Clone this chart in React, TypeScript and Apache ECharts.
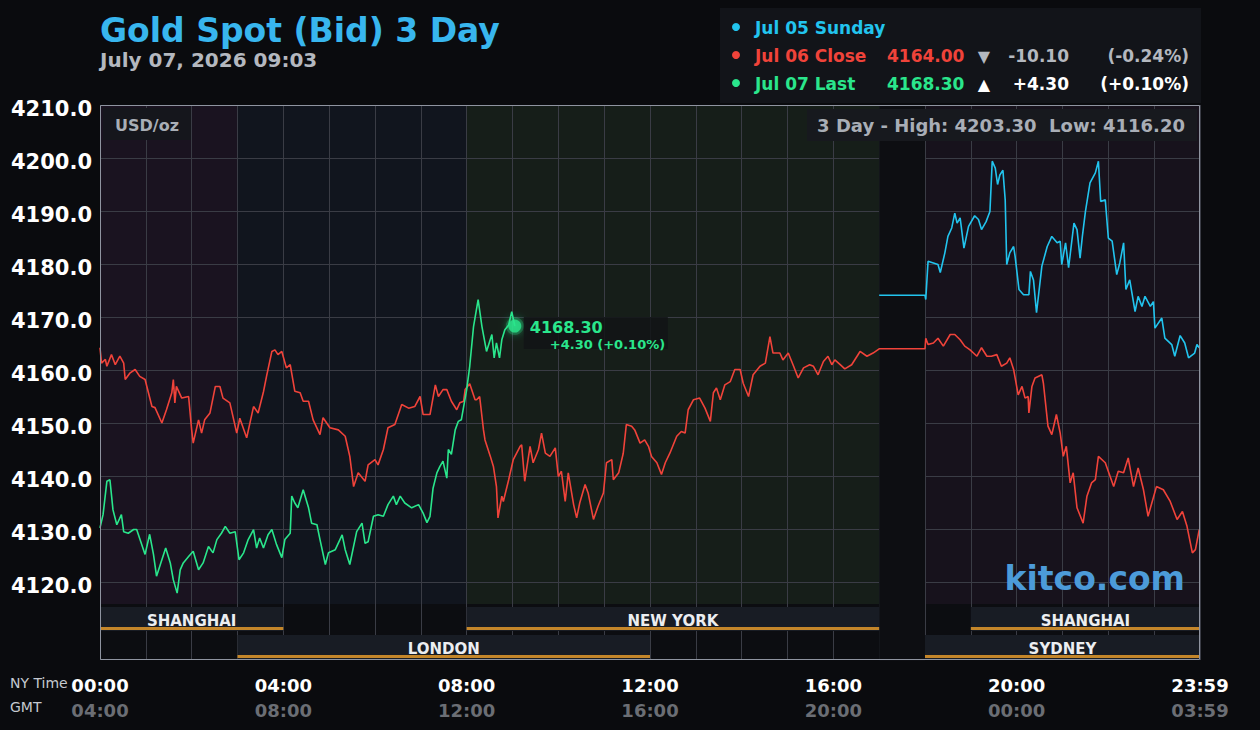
import React, { useEffect, useRef } from 'react';
import * as echarts from 'echarts';

// ---- Data (NY time in minutes from 00:00, price USD/oz) ----
const jul07Last: [number, number][] = [
  [0, 4130.2], [4, 4132.7], [9, 4139], [13, 4139.3], [17, 4133.6], [22, 4130.8], [28, 4132.7], [31, 4129.5],
  [37, 4129.2], [44, 4129.9], [48, 4129.9], [59, 4125.2], [65, 4129], [70, 4125.2], [74, 4121.1], [79, 4123.3],
  [86, 4126.4], [92, 4123.6], [96, 4120.4], [101, 4117.9], [105, 4122.3], [109, 4123.6], [116, 4124.8], [122, 4125.8],
  [129, 4122.3], [135, 4123.6], [142, 4126.7], [148, 4125.5], [153, 4128], [159, 4129.2], [164, 4130.5], [170, 4129.2],
  [177, 4129.5], [182, 4124.2], [188, 4125.5], [194, 4128], [201, 4129.9], [205, 4126.4], [209, 4128.3], [214, 4126.4],
  [220, 4128.9], [225, 4129.9], [231, 4127.1], [238, 4124.6], [242, 4128], [249, 4129.2], [251, 4136.2], [255, 4134.9],
  [259, 4134], [266, 4137.4], [273, 4134], [277, 4131.1], [284, 4130.8], [288, 4128], [295, 4123.3], [299, 4125.5],
  [308, 4126.1], [317, 4128.9], [321, 4126.1], [327, 4123.3], [336, 4129.5], [343, 4131.1], [347, 4127.3], [351, 4127.6],
  [358, 4132.4], [364, 4132.7], [371, 4132.4], [377, 4134.6], [384, 4136.2], [388, 4134.6], [393, 4136.2], [399, 4134.9],
  [408, 4134], [417, 4134.6], [423, 4133], [428, 4131.2], [432, 4132.4], [436, 4137.7], [441, 4140.6], [445, 4141.8],
  [449, 4142.8], [454, 4139.6], [456, 4145], [460, 4144.1], [465, 4148.7], [469, 4150.3], [473, 4150.6], [480, 4156.3],
  [484, 4160.7], [489, 4168.2], [495, 4173.3], [500, 4168.2], [506, 4163.5], [513, 4166.7], [516, 4162.3], [519, 4165.1],
  [523, 4162.3], [526, 4165.7], [530, 4167.6], [535, 4168.5], [539, 4171], [543, 4168.3],
];

const jul06Close: [number, number][] = [
  [0, 4164.2], [2, 4161.3], [7, 4162], [9, 4160.7], [15, 4162.9], [20, 4161], [26, 4162.6], [31, 4161.3], [33, 4158.2],
  [39, 4159.4], [46, 4160.1], [52, 4158.8], [59, 4158.2], [68, 4153.1], [72, 4152.9], [81, 4150], [87, 4152.5], [94, 4155.7],
  [96, 4158.2], [98, 4153.8], [100, 4156.9], [107, 4154.7], [116, 4155], [120, 4148.7], [122, 4146.2], [129, 4150.6],
  [133, 4148.1], [137, 4150.6], [144, 4151.9], [151, 4156.9], [157, 4156.9], [161, 4154.7], [170, 4153.8], [179, 4148.1],
  [183, 4150.9], [192, 4147.2], [201, 4153.1], [207, 4151.9], [214, 4155.9], [218, 4158.8], [225, 4163.5], [229, 4163.8],
  [233, 4162.9], [238, 4163.5], [244, 4160.4], [249, 4161], [255, 4156], [262, 4155.7], [266, 4154.1], [273, 4154.1],
  [279, 4150.6], [288, 4147.8], [292, 4151], [301, 4149.1], [312, 4148.7], [321, 4147.5], [327, 4143.7], [332, 4138],
  [338, 4140.6], [347, 4139], [351, 4142.1], [360, 4143.1], [364, 4142.1], [371, 4145], [377, 4149.1], [386, 4149.7],
  [395, 4153.5], [404, 4152.8], [412, 4153.1], [419, 4155], [423, 4151.6], [432, 4151.6], [439, 4157.2], [443, 4155],
  [449, 4156.3], [454, 4156.3], [460, 4154.1], [467, 4152.5], [471, 4153.8], [476, 4154.1], [478, 4156.3], [484, 4157.4],
  [491, 4154.4], [493, 4154.4], [497, 4155], [502, 4148.7], [504, 4146.8], [511, 4143.7], [515, 4141.8], [519, 4138],
  [521, 4132.1], [526, 4136.2], [528, 4135.2], [535, 4139.3], [541, 4143.1], [550, 4145.6], [552, 4145.9], [556, 4139],
  [563, 4145.6], [567, 4142.5], [574, 4145], [578, 4148.1], [583, 4144.3], [589, 4143.7], [596, 4145.3], [600, 4139.9],
  [604, 4140.9], [609, 4135.2], [613, 4140.6], [620, 4134.6], [624, 4132.1], [628, 4134.9], [635, 4138.4], [639, 4136.8],
  [646, 4131.8], [652, 4134.3], [659, 4136.8], [663, 4142.5], [670, 4143.1], [672, 4139.3], [679, 4140.6], [685, 4144.3],
  [689, 4149.7], [696, 4149.4], [700, 4148.7], [707, 4146.2], [713, 4146.8], [718, 4145.6], [722, 4143.7], [729, 4142.5],
  [735, 4140.3], [740, 4142.5], [746, 4144.3], [755, 4147.5], [761, 4148.4], [766, 4148.1], [770, 4152.5], [777, 4154.4],
  [785, 4154.7], [792, 4152.8], [799, 4150.3], [803, 4155.7], [807, 4156.6], [812, 4154.4], [818, 4157.2], [825, 4157.8],
  [831, 4160.1], [838, 4160.1], [842, 4157.5], [849, 4155], [855, 4159.1], [864, 4160.7], [871, 4161.3], [877, 4166.3],
  [881, 4163.2], [890, 4163.2], [894, 4161.9], [901, 4163.2], [908, 4160.7], [914, 4158.5], [921, 4160.4], [929, 4161],
  [934, 4160.7], [940, 4159.1], [947, 4161.6], [953, 4162.6], [958, 4161], [962, 4161.9], [969, 4161], [975, 4160.2],
  [984, 4161], [995, 4163.5], [1004, 4162.6], [1012, 4163.2], [1020, 4164], [1080, 4164], [1081, 4166], [1084, 4164.8],
  [1091, 4165.1], [1097, 4166], [1104, 4164.5], [1113, 4166.7], [1119, 4166.7], [1126, 4165.7], [1132, 4164.5],
  [1139, 4163.8], [1148, 4162.6], [1154, 4164.2], [1161, 4162.6], [1167, 4162.6], [1174, 4162.9], [1180, 4160.7],
  [1187, 4161.3], [1191, 4162.3], [1196, 4160.1], [1202, 4155.3], [1207, 4156.9], [1211, 4154.7], [1215, 4155],
  [1216, 4151.9], [1220, 4156.9], [1224, 4158.5], [1233, 4159.1], [1235, 4157.5], [1241, 4149.4], [1246, 4147.8],
  [1252, 4151.6], [1257, 4148.1], [1261, 4143.7], [1265, 4145.6], [1270, 4138.7], [1274, 4140.6], [1279, 4134],
  [1287, 4131.1], [1292, 4136.2], [1298, 4138.7], [1303, 4139.3], [1307, 4143.7], [1316, 4142.5], [1327, 4138],
  [1333, 4140.9], [1340, 4140.6], [1346, 4143.4], [1353, 4138], [1359, 4141.5], [1366, 4137.4], [1372, 4132.4],
  [1383, 4138], [1392, 4137.4], [1401, 4135.2], [1410, 4131.8], [1417, 4133.3], [1423, 4130.5], [1430, 4125.5],
  [1434, 4126.1], [1439, 4129.9],
];

const jul05Sunday: [number, number][] = [
  [1020, 4174.1], [1080, 4174.1], [1081, 4173.3], [1084, 4180.5], [1091, 4180.2], [1097, 4179.9], [1100, 4178.4],
  [1106, 4182.1], [1110, 4185.2], [1115, 4186.8], [1119, 4189.6], [1122, 4187.7], [1126, 4188.7], [1131, 4183],
  [1137, 4187.1], [1145, 4189.1], [1150, 4188.4], [1154, 4186.5], [1160, 4188], [1165, 4189.9], [1168, 4199.4],
  [1172, 4198.1], [1175, 4195], [1178, 4196.8], [1182, 4197.7], [1185, 4192.1], [1187, 4179.9], [1191, 4182.1],
  [1196, 4183.3], [1198, 4181.4], [1203, 4175.2], [1209, 4174.2], [1216, 4174.2], [1218, 4178.6], [1222, 4177],
  [1226, 4170.8], [1233, 4179.6], [1240, 4183.3], [1246, 4185.2], [1253, 4184], [1257, 4184.3], [1259, 4179.9],
  [1264, 4184], [1268, 4179.3], [1275, 4187.7], [1279, 4186.5], [1283, 4181.1], [1286, 4185.2], [1290, 4189.9],
  [1296, 4195.3], [1303, 4197.2], [1307, 4199.4], [1310, 4191.8], [1316, 4192.1], [1320, 4184.9], [1325, 4184.3],
  [1331, 4178], [1335, 4180.2], [1340, 4184], [1343, 4175.2], [1348, 4177], [1355, 4171], [1359, 4173.9], [1364, 4172],
  [1368, 4173.9], [1375, 4172], [1379, 4172.9], [1381, 4167.9], [1390, 4169.8], [1394, 4166], [1403, 4164.8],
  [1407, 4162.6], [1414, 4166.5], [1420, 4165.1], [1425, 4162.3], [1433, 4163.2], [1436, 4164.8], [1439, 4164.2],
];

// Trading sessions (minutes NY time) shown in the bottom strip
const sessionNames = ['SHANGHAI', 'LONDON', 'NEW YORK', 'SHANGHAI', 'SYDNEY'];
const sessionStart = [0, 180, 480, 1140, 1080];
const sessionEnd = [240, 720, 1020, 1440, 1440];
const sessionRow = [0, 1, 0, 0, 1];

// Background regions of the price area
const regionStart = [0, 180, 480, 1080];
const regionEnd = [180, 480, 1020, 1440];
const regionColors = ['#1a1320', '#11151e', '#161e19', '#17121c'];
const closedStart = 1020;
const closedEnd = 1080;

// Legend / header texts
const legendNames = ['Jul 05 Sunday', 'Jul 06 Close', 'Jul 07 Last'];
const legendColors = ['#22c4ee', '#f0433a', '#2ae68c'];
const legendPrices = ['', '4164.00', '4168.30'];
const legendArrows = ['', '▼', '▲'];
const legendChanges = ['', '-10.10', '+4.30'];
const legendPercents = ['', '(-0.24%)', '(+0.10%)'];
const legendInfoColors = ['', '#b4b8bf', '#ffffff'];

const Y_MIN = 4110;
const Y_MAX = 4210;
const GRID = '#3a3c45';
const FONT = 'DejaVu Sans, Verdana, sans-serif';

function pad(n: number) {
  return (n < 10 ? '0' : '') + n;
}

function xLabel(v: number) {
  if (v % 240 !== 0) return '';
  if (v >= 1440) return '{a|23:59}\n{b|03:59}';
  const h = v / 60;
  return `{a|${pad(h)}:00}\n{b|${pad((h + 4) % 24)}:00}`;
}

function txt(x: number, y: number, text: string, fill: string, font: string, align = 'left', z = 100) {
  return {
    type: 'text',
    x,
    y,
    z,
    style: { text, fill, font, align, verticalAlign: 'middle', textAlign: align, textVerticalAlign: 'middle' },
  };
}

function staticGraphics(): any[] {
  const g: any[] = [];
  // title
  g.push(txt(100, 30, 'Gold Spot (Bid) 3 Day', '#38b6ee', `bold 33px ${FONT}`));
  g.push(txt(100, 60, 'July 07, 2026 09:03', '#b4b8bf', `bold 20px ${FONT}`));
  // legend panel
  g.push({ type: 'rect', z: 90, shape: { x: 720, y: 8, width: 481, height: 95 }, style: { fill: '#121419' } });
  const rows = [28, 56, 84];
  legendNames.forEach((name, i) => {
    const y = rows[i];
    g.push({ type: 'circle', z: 100, shape: { cx: 736, cy: y - 1, r: 4 }, style: { fill: legendColors[i] } });
    g.push(txt(755, y, name, legendColors[i], `bold 17px ${FONT}`));
    if (legendPrices[i]) {
      g.push(txt(887, y, legendPrices[i], legendColors[i], `bold 17px ${FONT}`));
      g.push(txt(984, y, legendArrows[i], legendInfoColors[i], `bold 16px ${FONT}`, 'center'));
      g.push(txt(1069, y, legendChanges[i], legendInfoColors[i], `bold 17px ${FONT}`, 'right'));
      g.push(txt(1189, y, legendPercents[i], legendInfoColors[i], `bold 17px ${FONT}`, 'right'));
    }
  });
  // unit box
  g.push({ type: 'rect', z: 90, shape: { x: 103, y: 108, width: 88, height: 32 }, style: { fill: '#15161c' } });
  g.push(txt(115, 125, 'USD/oz', '#a9aeb6', `bold 16px ${FONT}`));
  // high / low box
  g.push({ type: 'rect', z: 90, shape: { x: 807, y: 109, width: 390, height: 32 }, style: { fill: '#17191e' } });
  g.push(txt(1185, 125, '3 Day - High: 4203.30  Low: 4116.20', '#a9aeb6', `bold 18px ${FONT}`, 'right'));
  // watermark
  g.push(txt(1185, 578, 'kitco.com', '#4c9bd9', `bold 33px ${FONT}`, 'right'));
  // axis captions
  g.push(txt(10, 683, 'NY Time', '#c5c9d0', `14px ${FONT}`));
  g.push(txt(10, 707, 'GMT', '#c5c9d0', `14px ${FONT}`));
  // frame
  g.push({
    type: 'rect',
    z: 95,
    shape: { x: 100.5, y: 105.5, width: 1099, height: 554 },
    style: { fill: 'none', stroke: '#8f94a0', lineWidth: 1 },
  });
  return g;
}

function annotation(p: number[]): any[] {
  return [
    {
      type: 'circle',
      z: 96,
      shape: { cx: p[0], cy: p[1], r: 9 },
      style: { fill: 'rgba(42,230,140,0.25)' },
    },
    {
      type: 'rect',
      z: 96,
      shape: { x: p[0] + 9, y: p[1] - 9, width: 144, height: 32 },
      style: { fill: 'rgba(18,20,22,0.85)' },
    },
    txt(p[0] + 15, p[1] + 1, '4168.30', '#2ae68c', `bold 16px ${FONT}`, 'left', 97),
    txt(p[0] + 35, p[1] + 18.5, '+4.30 (+0.10%)', '#2ae68c', `bold 13px ${FONT}`, 'left', 97),
  ];
}

function buildOption(): any {
  const splitColors = [
    'rgba(0,0,0,0)', GRID, GRID, GRID, GRID, GRID, GRID, GRID, GRID, GRID, GRID,
  ];
  return {
    animation: false,
    backgroundColor: '#0a0b0e',
    grid: [
      { left: 100, top: 105, width: 1100, height: 530 },
      { left: 100, top: 604, width: 1100, height: 56 },
    ],
    xAxis: [
      {
        gridIndex: 0,
        type: 'value',
        min: 0,
        max: 1440,
        interval: 60,
        axisLine: { show: false },
        axisTick: { show: false },
        axisLabel: { show: false },
        splitLine: { show: true, lineStyle: { color: GRID, width: 1 } },
      },
      {
        gridIndex: 1,
        type: 'value',
        min: 0,
        max: 1440,
        interval: 60,
        axisLine: { show: false },
        axisTick: { show: false },
        splitLine: { show: true, lineStyle: { color: GRID, width: 1 } },
        axisLabel: {
          show: true,
          margin: 13,
          formatter: xLabel,
          rich: {
            a: { color: '#ffffff', fontWeight: 'bold', fontSize: 18, lineHeight: 25, fontFamily: FONT },
            b: { color: '#6b6e74', fontWeight: 'bold', fontSize: 18, lineHeight: 25, fontFamily: FONT },
          },
        },
      },
    ],
    yAxis: [
      {
        gridIndex: 0,
        type: 'value',
        min: Y_MIN,
        max: Y_MAX,
        interval: 10,
        axisLine: { show: false },
        axisTick: { show: false },
        axisLabel: {
          formatter: (v: number) => (v === Y_MIN ? '' : v.toFixed(1)),
          color: '#ffffff',
          fontWeight: 'bold',
          fontSize: 21,
          fontFamily: FONT,
          margin: 8,
          verticalAlign: 'top',
          lineHeight: 8,
        },
        splitLine: { show: true, lineStyle: { color: splitColors, width: 1 } },
      },
      { gridIndex: 1, type: 'value', min: 0, max: 2, inverse: true, show: false },
    ],
    series: [
      {
        type: 'custom',
        name: 'regions',
        xAxisIndex: 0,
        yAxisIndex: 0,
        z: -2,
        silent: true,
        data: regionStart.map((s, i) => ({ value: [s, regionEnd[i]], itemStyle: { color: regionColors[i] } })),
        renderItem: (params: any, api: any) => {
          const p0 = api.coord([api.value(0), Y_MAX]);
          const p1 = api.coord([api.value(1), Y_MIN]);
          return {
            type: 'rect',
            shape: { x: p0[0], y: p0[1], width: p1[0] - p0[0], height: p1[1] - p0[1] },
            style: { fill: regionColors[params.dataIndex] },
          };
        },
      },
      {
        type: 'custom',
        name: 'stripBg',
        xAxisIndex: 1,
        yAxisIndex: 1,
        z: -1,
        silent: true,
        data: [[0, 1440]],
        renderItem: (params: any, api: any) => {
          const p0 = api.coord([api.value(0), 0]);
          const p1 = api.coord([api.value(1), 2]);
          return {
            type: 'rect',
            shape: { x: p0[0], y: p0[1], width: p1[0] - p0[0], height: p1[1] - p0[1] },
            style: { fill: '#0c0d11' },
          };
        },
      },
      {
        type: 'custom',
        name: 'closed',
        xAxisIndex: 0,
        yAxisIndex: 0,
        z: 1,
        silent: true,
        data: [[closedStart, closedEnd]],
        renderItem: (params: any, api: any) => {
          const p0 = api.coord([api.value(0), Y_MAX]);
          const p1 = api.coord([api.value(1), Y_MIN]);
          return {
            type: 'rect',
            shape: { x: p0[0], y: p0[1], width: p1[0] - p0[0], height: p1[1] - p0[1] + 26 },
            style: { fill: '#0d0e12' },
          };
        },
      },
      {
        type: 'custom',
        name: 'sessions',
        xAxisIndex: 1,
        yAxisIndex: 1,
        z: 2,
        silent: true,
        data: sessionStart.map((s, i) => [s, sessionEnd[i], sessionRow[i]]),
        renderItem: (params: any, api: any) => {
          const r = api.value(2);
          const p0 = api.coord([api.value(0), r]);
          const p1 = api.coord([api.value(1), r + 1]);
          const x = p0[0];
          const w = p1[0] - p0[0];
          const top = p0[1] + 3;
          const bot = p1[1] - 1;
          return {
            type: 'group',
            children: [
              { type: 'rect', shape: { x, y: top, width: w, height: bot - top }, style: { fill: '#181c24' } },
              {
                type: 'text',
                style: {
                  text: sessionNames[params.dataIndex],
                  x: x + w / 2,
                  y: top + (bot - top) / 2 + 2,
                  align: 'center',
                  verticalAlign: 'middle',
                  fill: '#eceef1',
                  font: `bold 15px ${FONT}`,
                },
              },
              { type: 'rect', shape: { x, y: bot - 4, width: w, height: 3 }, style: { fill: '#c4862a' } },
            ],
          };
        },
      },
      {
        type: 'line',
        name: 'Jul 06 Close',
        xAxisIndex: 0,
        yAxisIndex: 0,
        z: 3,
        data: jul06Close,
        showSymbol: false,
        lineStyle: { color: legendColors[1], width: 1.6 },
      },
      {
        type: 'line',
        name: 'Jul 05 Sunday',
        xAxisIndex: 0,
        yAxisIndex: 0,
        z: 3,
        data: jul05Sunday,
        showSymbol: false,
        lineStyle: { color: legendColors[0], width: 1.6 },
      },
      {
        type: 'line',
        name: 'Jul 07 Last',
        xAxisIndex: 0,
        yAxisIndex: 0,
        z: 4,
        data: jul07Last,
        showSymbol: false,
        lineStyle: { color: legendColors[2], width: 1.6 },
      },
      {
        type: 'scatter',
        name: 'last',
        xAxisIndex: 0,
        yAxisIndex: 0,
        z: 5,
        data: [jul07Last[jul07Last.length - 1]],
        symbolSize: 13,
        itemStyle: { color: legendColors[2], shadowBlur: 10, shadowColor: 'rgba(42,230,140,0.9)' },
      },
    ],
  };
}

export default function App() {
  const ref = useRef<HTMLDivElement>(null);
  useEffect(() => {
    if (!ref.current) return;
    const chart = echarts.init(ref.current, undefined, { renderer: 'svg' });
    chart.setOption(buildOption());
    const last = jul07Last[jul07Last.length - 1];
    const p = chart.convertToPixel({ xAxisIndex: 0, yAxisIndex: 0 } as any, last) as unknown as number[];
    chart.setOption({ graphic: [...staticGraphics(), ...annotation(p)] });
    return () => chart.dispose();
  }, []);
  return <div ref={ref} style={{ position: 'fixed', left: 0, top: 0, width: 1260, height: 730 }} />;
}
